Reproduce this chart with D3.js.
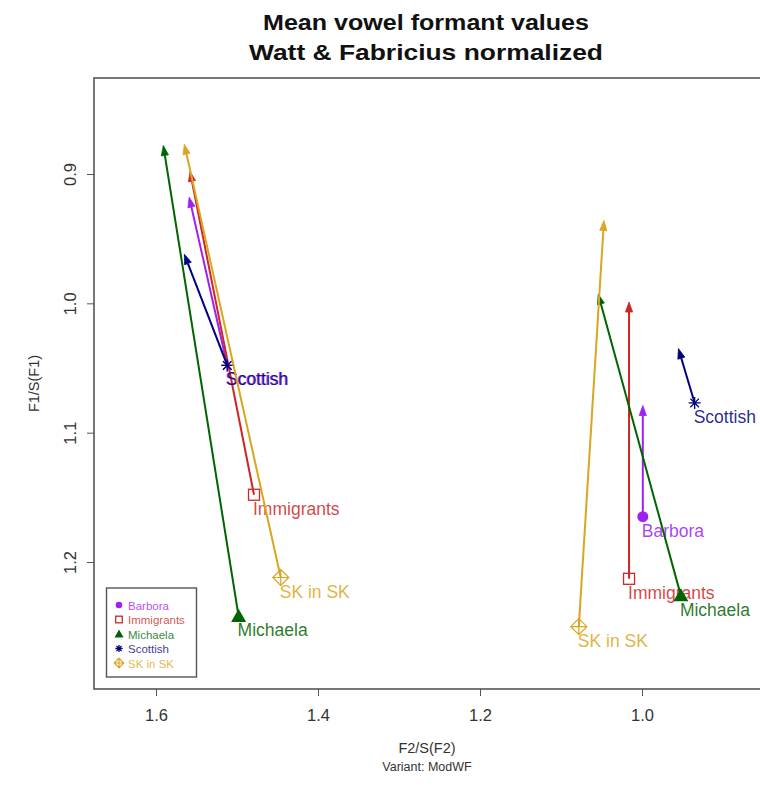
<!DOCTYPE html>
<html>
<head>
<meta charset="utf-8">
<script src="https://cdn.jsdelivr.net/npm/d3@7"></script>
<style>
  html, body { margin: 0; padding: 0; background: #fff; }
  svg { display: block; font-family: "Liberation Sans", Arial, sans-serif; }
</style>
</head>
<body>
<svg id="chart" width="760" height="792"></svg>
<script>
// Speakers / groups, drawn in this order
const speakers = ["Barbora", "Immigrants", "Michaela", "Scottish", "SK in SK"];
const speakerColors = ["#a020f0", "#cd2626", "#006400", "#000080", "#daa520"];
const markerShapes = ["circle", "square", "triangle", "asterisk", "diamondPlus"];

// Mean normalized formants (two vowels per speaker): arrow start
const f2Mean = [[1.512, 0.999], [1.479, 1.016], [1.498, 0.952], [1.512, 0.935], [1.446, 1.078]];
const f1Mean = [[1.048, 1.165], [1.148, 1.213], [1.242, 1.226], [1.048, 1.077], [1.212, 1.250]];
// Arrow end (glide target)
const f2Target = [[1.559, 0.999], [1.558, 1.016], [1.591, 1.054], [1.565, 0.955], [1.565, 1.047]];
const f1Target = [[0.918, 1.079], [0.898, 0.999], [0.878, 0.993], [0.962, 1.035], [0.877, 0.936]];
// Point labels
const pointLabels = [["Scottish", "Barbora"], ["Immigrants", "Immigrants"], ["Michaela", "Michaela"],
                     ["Scottish", "Scottish"], ["SK in SK", "SK in SK"]];

const xTicks = [1.6, 1.4, 1.2, 1.0];
const yTicks = [0.9, 1.0, 1.1, 1.2];

const svg = d3.select("#chart");
const box = { left: 94, right: 762, top: 78, bottom: 689 };

// Both axes reversed, vowel-chart style
const x = d3.scaleLinear().domain([1.6, 1.0]).range([156, 642]);
const y = d3.scaleLinear().domain([0.9, 1.2]).range([174, 562]);

// Titles
svg.append("text").attr("x", 426).attr("y", 30).attr("text-anchor", "middle")
  .attr("font-weight", "bold").attr("font-size", 22).attr("fill", "#111")
  .attr("textLength", 326).attr("lengthAdjust", "spacingAndGlyphs")
  .text("Mean vowel formant values");
svg.append("text").attr("x", 426).attr("y", 60).attr("text-anchor", "middle")
  .attr("font-weight", "bold").attr("font-size", 22).attr("fill", "#111")
  .attr("textLength", 354).attr("lengthAdjust", "spacingAndGlyphs")
  .text("Watt & Fabricius normalized");

// Axes
const xAxis = d3.axisBottom(x).tickValues(xTicks).tickFormat(d3.format(".1f")).tickSize(7).tickPadding(13);
const gx = svg.append("g").attr("transform", `translate(0,${box.bottom})`).call(xAxis);
gx.select(".domain").remove();
gx.selectAll("line").attr("stroke", "#555");
gx.selectAll("text").attr("font-size", 16.5).attr("fill", "#333").attr("font-family", "Liberation Sans, Arial, sans-serif");

const yAxis = d3.axisLeft(y).tickValues(yTicks).tickFormat(d3.format(".1f")).tickSize(7).tickPadding(10);
const gy = svg.append("g").attr("transform", `translate(${box.left},0)`).call(yAxis);
gy.select(".domain").remove();
gy.selectAll("line").attr("stroke", "#555");
gy.selectAll("text").attr("font-size", 16.5).attr("fill", "#333").attr("font-family", "Liberation Sans, Arial, sans-serif")
  .attr("text-anchor", "middle").attr("dy", null).attr("x", null)
  .attr("transform", "translate(-24,0) rotate(-90)")
  .attr("y", 6);

// Axis titles
svg.append("text").attr("x", 427).attr("y", 753).attr("text-anchor", "middle")
  .attr("font-size", 14.5).attr("fill", "#333").text("F2/S(F2)");
svg.append("text").attr("x", 427).attr("y", 771).attr("text-anchor", "middle")
  .attr("font-size", 12.5).attr("fill", "#333").text("Variant: ModWF");
svg.append("text").attr("transform", `translate(39,${(box.top + box.bottom) / 2}) rotate(-90)`)
  .attr("text-anchor", "middle").attr("font-size", 14.5).attr("fill", "#333").text("F1/S(F1)");

// Plot frame
svg.append("rect").attr("x", box.left).attr("y", box.top)
  .attr("width", box.right - box.left).attr("height", box.bottom - box.top)
  .attr("fill", "none").attr("stroke", "#555").attr("stroke-width", 1.6);

// Marker drawing
function drawMarker(g, shape, cx, cy, color, s) {
  s = s || 1;
  if (shape === "circle") {
    g.append("circle").attr("cx", cx).attr("cy", cy).attr("r", 5.5 * s).attr("fill", color);
  } else if (shape === "square") {
    const h = 5.5 * s;
    g.append("rect").attr("x", cx - h).attr("y", cy - h).attr("width", 2 * h).attr("height", 2 * h)
      .attr("fill", "none").attr("stroke", color).attr("stroke-width", 1.3);
  } else if (shape === "triangle") {
    const h = 7.5 * s;
    g.append("path").attr("d", `M${cx},${cy - h}L${cx + h},${cy + h * 0.75}L${cx - h},${cy + h * 0.75}Z`)
      .attr("fill", color);
  } else if (shape === "asterisk") {
    const h = 6 * s, d = h * 0.72;
    g.append("path").attr("d",
      `M${cx - h},${cy}L${cx + h},${cy}M${cx},${cy - h}L${cx},${cy + h}` +
      `M${cx - d},${cy - d}L${cx + d},${cy + d}M${cx - d},${cy + d}L${cx + d},${cy - d}`)
      .attr("stroke", color).attr("stroke-width", 1.3).attr("fill", "none");
  } else if (shape === "diamondPlus") {
    const h = 8 * s;
    g.append("path").attr("d",
      `M${cx},${cy - h}L${cx + h},${cy}L${cx},${cy + h}L${cx - h},${cy}Z` +
      `M${cx - h},${cy}L${cx + h},${cy}M${cx},${cy - h}L${cx},${cy + h}`)
      .attr("stroke", color).attr("stroke-width", 1.2).attr("fill", "none");
  }
}

function drawArrow(g, x0, y0, x1, y1, color) {
  const ang = Math.atan2(y1 - y0, x1 - x0);
  const len = 10, half = 3.6;
  const bx = x1 - len * Math.cos(ang), by = y1 - len * Math.sin(ang);
  g.append("line").attr("x1", x0).attr("y1", y0).attr("x2", bx).attr("y2", by)
    .attr("stroke", color).attr("stroke-width", 2);
  const px = -Math.sin(ang) * half, py = Math.cos(ang) * half;
  g.append("path").attr("d", `M${x1},${y1}L${bx + px},${by + py}L${bx - px},${by - py}Z`)
    .attr("fill", color).attr("stroke", color).attr("stroke-width", 0.8);
}

// Data: arrows, markers and labels per speaker
const plot = svg.append("g");
speakers.forEach((sp, i) => {
  const g = plot.append("g");
  const col = speakerColors[i];
  for (let v = 0; v < 2; v++) {
    const sx = x(f2Mean[i][v]), sy = y(f1Mean[i][v]);
    drawArrow(g, sx, sy, x(f2Target[i][v]), y(f1Target[i][v]), col);
    const lbl = pointLabels[i][v];
    const own = lbl === sp;
    drawMarker(g, own ? markerShapes[i] : "asterisk", sx, sy, col);
    g.append("text").attr("x", sx - 1 - (own ? 0 : 1)).attr("y", sy + 20 - (own ? 0 : 0.5))
      .attr("font-size", 17.5).attr("fill", col).attr("fill-opacity", 0.85).text(lbl);
  }
});

// Legend
const leg = svg.append("g");
leg.append("rect").attr("x", 106.5).attr("y", 588).attr("width", 90).attr("height", 89)
  .attr("fill", "#fff").attr("stroke", "#555").attr("stroke-width", 1.4);
speakers.forEach((sp, i) => {
  const cy = 605 + i * 14.5;
  drawMarker(leg, markerShapes[i], 119, cy, speakerColors[i], 0.6);
  leg.append("text").attr("x", 128).attr("y", cy + 4.5).attr("font-size", 11.5)
    .attr("fill", speakerColors[i]).attr("fill-opacity", 0.8).text(sp);
});
</script>
</body>
</html>
